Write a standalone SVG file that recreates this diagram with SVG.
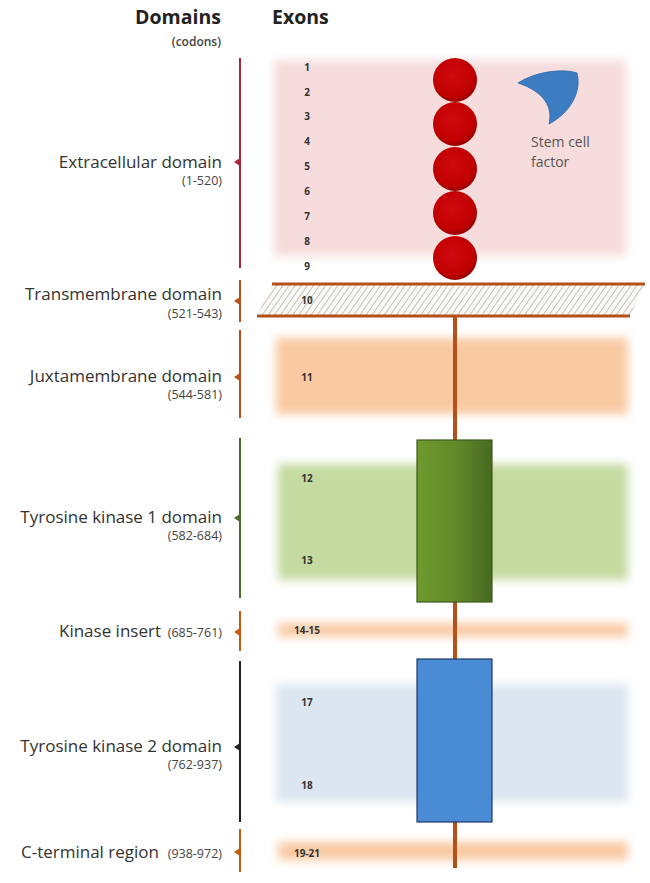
<svg xmlns="http://www.w3.org/2000/svg" width="650" height="883" viewBox="0 0 650 883">
  <defs>
    <style>
      .hdr { font-family: "Open Sans", "Liberation Sans", sans-serif; font-weight: bold; font-size: 19.5px; fill: #222; }
      .sub { font-family: "Open Sans", "Liberation Sans", sans-serif; font-weight: 600; font-size: 12px; fill: #444; }
      .dom { font-family: "Open Sans", "Liberation Sans", sans-serif; font-size: 17px; fill: #333; }
      .cod { font-family: "Open Sans", "Liberation Sans", sans-serif; font-size: 12.5px; fill: #444; }
      .exon { font-family: "Open Sans", "Liberation Sans", sans-serif; font-size: 10px; font-weight: bold; fill: #333; text-anchor: middle; }
      .scf { font-family: "Open Sans", "Liberation Sans", sans-serif; font-size: 14px; fill: #555; }
      .brk { stroke-width: 2; fill: none; }
    </style>
    <filter id="soft" x="-10%" y="-30%" width="120%" height="160%">
      <feGaussianBlur stdDeviation="5"/>
    </filter>
    <radialGradient id="ball" cx="0.45" cy="0.4" r="0.6">
      <stop offset="0" stop-color="#d00a10"/>
      <stop offset="0.8" stop-color="#c00000"/>
      <stop offset="1" stop-color="#960000"/>
    </radialGradient>
    <linearGradient id="tk1" x1="0" y1="0" x2="1" y2="0">
      <stop offset="0" stop-color="#6e9a2e"/>
      <stop offset="0.5" stop-color="#648a2a"/>
      <stop offset="1" stop-color="#466a20"/>
    </linearGradient>
    <pattern id="hatch" width="5" height="5" patternUnits="userSpaceOnUse" patternTransform="rotate(35)">
      <rect width="5" height="5" fill="#fbf9f6"/>
      <line x1="0" y1="0" x2="0" y2="5" stroke="#a89e94" stroke-width="1.2"/>
    </pattern>
  </defs>

  <rect width="650" height="883" fill="#ffffff"/>

  <!-- column headings -->
  <g id="headings">
    <text class="hdr" x="221" y="24" text-anchor="end">Domains</text>
    <text class="sub" x="221" y="46" text-anchor="end">(codons)</text>
    <text class="hdr" x="272" y="24">Exons</text>
  </g>

  <!-- soft exon bands -->
  <g id="bands" filter="url(#soft)">
    <rect x="274" y="60" width="352" height="196" fill="#f6dcdc"/>
    <rect x="276" y="338" width="352" height="76" fill="#f9c9a2"/>
    <rect x="278" y="464" width="350" height="116" fill="#c5daa0"/>
    <rect x="278" y="623" width="350" height="14" fill="#f9caa4"/>
    <rect x="276" y="684" width="352" height="118" fill="#dce6f1"/>
    <rect x="278" y="842" width="350" height="18" fill="#f9c9a2"/>
  </g>

  <!-- receptor stem -->
  <g id="connectors">
    <line x1="455" y1="316" x2="455" y2="868" stroke="#b4511a" stroke-width="4"/>
  </g>

  <!-- extracellular domain -->
  <g id="extracellular">
    <line class="brk" x1="240" y1="58" x2="240" y2="268" stroke="#a8283a"/>
    <polygon points="240,158 240,166 234,162" fill="#a8283a"/>
    <text class="dom" x="222" y="168" text-anchor="end">Extracellular domain</text>
    <text class="cod" x="222" y="185" text-anchor="end">(1-520)</text>
    <g id="exons-1-9">
      <text class="exon" x="307" y="71">1</text>
      <text class="exon" x="307" y="96">2</text>
      <text class="exon" x="307" y="120">3</text>
      <text class="exon" x="307" y="145">4</text>
      <text class="exon" x="307" y="170">5</text>
      <text class="exon" x="307" y="195">6</text>
      <text class="exon" x="307" y="220">7</text>
      <text class="exon" x="307" y="245">8</text>
      <text class="exon" x="307" y="270">9</text>
    </g>
    <g id="ig-loops">
      <circle cx="455" cy="80" r="22" fill="url(#ball)"/>
      <circle cx="455" cy="124" r="22" fill="url(#ball)"/>
      <circle cx="455" cy="169" r="22" fill="url(#ball)"/>
      <circle cx="455" cy="213" r="22" fill="url(#ball)"/>
      <circle cx="455" cy="258" r="22" fill="url(#ball)"/>
    </g>
  </g>

  <!-- stem cell factor ligand -->
  <g id="scf">
    <path d="M518,83 C535,72 562,68 577,73 C582,92 570,113 549,124 C553,108 545,92 518,83 Z" fill="#3c7cc0" stroke="#2f6aa8" stroke-width="0.8"/>
    <text class="scf" x="531" y="147">Stem cell</text>
    <text class="scf" x="531" y="167">factor</text>
  </g>

  <!-- transmembrane domain -->
  <g id="transmembrane">
    <line class="brk" x1="240" y1="280" x2="240" y2="322" stroke="#b4511a"/>
    <polygon points="240,297 240,305 234,301" fill="#b4511a"/>
    <text class="dom" x="222" y="300" text-anchor="end">Transmembrane domain</text>
    <text class="cod" x="222" y="318" text-anchor="end">(521-543)</text>
    <polygon points="272,284 645,284 630,316 257,316" fill="url(#hatch)"/>
    <line x1="272" y1="284" x2="645" y2="284" stroke="#b4511a" stroke-width="3"/>
    <line x1="257" y1="316" x2="630" y2="316" stroke="#b4511a" stroke-width="3"/>
    <text class="exon" x="307" y="304">10</text>
  </g>

  <!-- juxtamembrane domain -->
  <g id="juxtamembrane">
    <line class="brk" x1="240" y1="330" x2="240" y2="418" stroke="#b4511a"/>
    <polygon points="240,373 240,381 234,377" fill="#b4511a"/>
    <text class="dom" x="222" y="382" text-anchor="end">Juxtamembrane domain</text>
    <text class="cod" x="222" y="399" text-anchor="end">(544-581)</text>
    <text class="exon" x="307" y="381">11</text>
  </g>

  <!-- tyrosine kinase 1 domain -->
  <g id="tk1-domain">
    <line class="brk" x1="240" y1="438" x2="240" y2="598" stroke="#4f6a2a"/>
    <polygon points="240,514 240,522 234,518" fill="#4f6a2a"/>
    <text class="dom" x="222" y="523" text-anchor="end">Tyrosine kinase 1 domain</text>
    <text class="cod" x="222" y="540" text-anchor="end">(582-684)</text>
    <rect x="417" y="440" width="75" height="162" fill="url(#tk1)" stroke="#3e5a1c" stroke-width="1.2"/>
    <text class="exon" x="307" y="482">12</text>
    <text class="exon" x="307" y="564">13</text>
  </g>

  <!-- kinase insert -->
  <g id="kinase-insert">
    <line class="brk" x1="240" y1="611" x2="240" y2="651" stroke="#c55a11"/>
    <polygon points="240,628 240,636 234,632" fill="#c55a11"/>
    <text class="dom" x="161" y="637" text-anchor="end">Kinase insert</text>
    <text class="cod" x="222" y="637" text-anchor="end">(685-761)</text>
    <text class="exon" x="307" y="634">14-15</text>
  </g>

  <!-- tyrosine kinase 2 domain -->
  <g id="tk2-domain">
    <line class="brk" x1="240" y1="661" x2="240" y2="822" stroke="#222222"/>
    <polygon points="240,743 240,751 234,747" fill="#222222"/>
    <text class="dom" x="222" y="752" text-anchor="end">Tyrosine kinase 2 domain</text>
    <text class="cod" x="222" y="769" text-anchor="end">(762-937)</text>
    <rect x="417" y="659" width="75" height="163" fill="#4a8bd6" stroke="#1f3a66" stroke-width="1.2"/>
    <text class="exon" x="307" y="706">17</text>
    <text class="exon" x="307" y="789">18</text>
  </g>

  <!-- C-terminal region -->
  <g id="c-terminal">
    <line class="brk" x1="240" y1="829" x2="240" y2="872" stroke="#c55a11"/>
    <polygon points="240,848 240,856 234,852" fill="#c55a11"/>
    <text class="dom" x="159" y="858" text-anchor="end">C-terminal region</text>
    <text class="cod" x="222" y="858" text-anchor="end">(938-972)</text>
    <text class="exon" x="307" y="857">19-21</text>
  </g>
</svg>
